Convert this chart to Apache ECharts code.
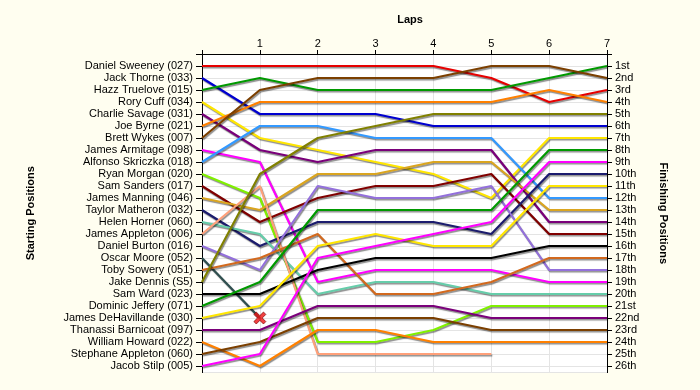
<!DOCTYPE html>
<html>
<head>
<meta charset="utf-8">
<script src="https://cdn.jsdelivr.net/npm/echarts@6/dist/echarts.min.js"></script>
<style>
html,body{margin:0;padding:0;background:#fffef0;}
#chart{width:700px;height:390px;}
</style>
</head>
<body>
<div id="chart"></div>
<script>
const laps = [0, 1, 2, 3, 4, 5, 6, 7];

const startingNames = [
  'Daniel Sweeney (027)', 'Jack Thorne (033)', 'Hazz Truelove (015)', 'Rory Cuff (034)',
  'Charlie Savage (031)', 'Joe Byrne (021)', 'Brett Wykes (007)', 'James Armitage (098)',
  'Alfonso Skriczka (018)', 'Ryan Morgan (020)', 'Sam Sanders (017)', 'James Manning (046)',
  'Taylor Matheron (032)', 'Helen Horner (060)', 'James Appleton (006)', 'Daniel Burton (016)',
  'Oscar Moore (052)', 'Toby Sowery (051)', 'Jake Dennis (S5)', 'Sam Ward (023)',
  'Dominic Jeffery (071)', 'James DeHavillande (030)', 'Thanassi Barnicoat (097)',
  'William Howard (022)', 'Stephane Appleton (060)', 'Jacob Stilp (005)'
];

const finishingLabels = [
  '1st', '2nd', '3rd', '4th', '5th', '6th', '7th', '8th', '9th', '10th', '11th', '12th', '13th',
  '14th', '15th', '16th', '17th', '18th', '19th', '20th', '21st', '22nd', '23rd', '24th', '25th', '26th'
];

// position of each driver (same order as startingNames) after lap 0..7; null = not running
const positionsByLap = [
  [1, 1, 1, 1, 1, 2, 4, 3],
  [2, 5, 5, 5, 6, 6, 6, 6],
  [3, 2, 3, 3, 3, 3, 2, 1],
  [4, 7, 8, 9, 10, 12, 7, 7],
  [5, 8, 9, 8, 8, 8, 14, 14],
  [6, 4, 4, 4, 4, 4, 3, 4],
  [7, 3, 2, 2, 2, 1, 1, 2],
  [8, 9, 19, 18, 18, 18, 19, 19],
  [9, 6, 6, 7, 7, 7, 12, 12],
  [10, 12, 24, 24, 23, 21, 21, 21],
  [11, 14, 12, 11, 11, 10, 15, 15],
  [12, 13, 10, 10, 9, 9, 13, 13],
  [13, 16, 14, 14, 14, 15, 10, 10],
  [14, 15, 20, 19, 19, 20, 20, 20],
  [15, 11, 25, 25, 25, 25, null, null],
  [16, 18, 11, 12, 12, 11, 18, 18],
  [17, 22, null, null, null, null, null, null],
  [18, 17, 15, 20, 20, 19, 17, 17],
  [19, 10, 7, 6, 5, 5, 5, 5],
  [20, 20, 18, 17, 17, 17, 16, 16],
  [21, 19, 13, 13, 13, 13, 8, 8],
  [22, 21, 16, 15, 16, 16, 11, 11],
  [23, 23, 21, 21, 21, 22, 22, 22],
  [24, 26, 23, 23, 24, 24, 24, 24],
  [25, 24, 22, 22, 22, 23, 23, 23],
  [26, 25, 17, 16, 15, 14, 9, 9]
];

// drivers shown with a crash marker at their last recorded lap
const crashedDrivers = ['Oscar Moore (052)'];

const lineColors = [
  '#e60000', '#0000d0', '#009900', '#ffe600', '#7a007a', '#ff8000', '#7b3f00', '#ff00ff',
  '#3399ff', '#80f000', '#800000', '#daa520', '#1c1c6e', '#66cdaa', '#ffa07a', '#9370db',
  '#2f4f4f', '#d2691e', '#808000', '#000000', '#009900', '#ffe600', '#7a007a', '#ff8000',
  '#7b3f00', '#ff00ff'
];

const FONT = '"Liberation Sans", Arial, sans-serif';

const series = positionsByLap.map((row, d) => ({
  type: 'line',
  name: startingNames[d],
  data: laps.map((lap, i) => [lap, row[i]]).filter(p => p[1] !== null),
  symbol: 'none',
  smooth: false,
  z: 3,
  lineStyle: {
    color: lineColors[d],
    width: 2.2,
    shadowColor: 'rgba(0,0,0,0.45)',
    shadowOffsetX: 1,
    shadowOffsetY: 1.5,
    shadowBlur: 1
  },
  emphasis: { disabled: true }
}));

const crashPoints = crashedDrivers.map(name => {
  const row = positionsByLap[startingNames.indexOf(name)];
  let last = 0;
  row.forEach((v, i) => { if (v !== null) last = i; });
  return [laps[last], row[last]];
});

series.push({
  type: 'scatter',
  data: crashPoints,
  symbol: 'path://M2,0 L5,3 L8,0 L10,2 L7,5 L10,8 L8,10 L5,7 L2,10 L0,8 L3,5 L0,2 Z',
  symbolSize: 12,
  z: 5,
  itemStyle: { color: '#ee1111', borderColor: '#700000', borderWidth: 0.8 },
  emphasis: { disabled: true }
});

const chart = echarts.init(document.getElementById('chart'), null, { renderer: 'canvas' });
chart.setOption({
  backgroundColor: '#fffef0',
  animation: false,
  textStyle: { fontFamily: FONT },
  title: {
    text: 'Laps',
    left: 405,
    top: 9,
    textAlign: 'center',
    textStyle: { fontSize: 11, fontWeight: 'bold', color: '#000', fontFamily: FONT }
  },
  grid: {
    left: 202,
    top: 54,
    width: 405,
    height: 318.6,
    show: true,
    backgroundColor: '#ffffff',
    borderWidth: 0,
    containLabel: false
  },
  xAxis: {
    type: 'value',
    position: 'top',
    min: 0,
    max: 7,
    interval: 1,
    axisLine: { show: true, lineStyle: { color: '#000', width: 1 } },
    axisTick: { show: true, length: 4, lineStyle: { color: '#000' } },
    axisLabel: {
      color: '#000', fontSize: 11, margin: 5, fontFamily: FONT,
      formatter: v => (v === 0 ? '' : String(v))
    },
    splitLine: { show: true, lineStyle: { color: '#e4e4e4', width: 1 } }
  },
  yAxis: [
    {
      type: 'value',
      inverse: true,
      min: 0,
      max: 26.55,
      interval: 1,
      position: 'left',
      offset: 2,
      name: 'Starting Positions',
      nameLocation: 'middle',
      nameRotate: 90,
      nameGap: 164,
      nameTextStyle: { fontSize: 11, fontWeight: 'bold', color: '#000', fontFamily: FONT },
      axisLine: { show: true, lineStyle: { color: '#000', width: 1 } },
      axisTick: { show: true, length: 6, lineStyle: { color: '#000' } },
      axisLabel: {
        color: '#000', fontSize: 11, margin: 7, fontFamily: FONT,
        showMaxLabel: false,
        formatter: v => (v >= 1 && v <= startingNames.length && Number.isInteger(v) ? startingNames[v - 1] : '')
      },
      splitLine: { show: true, lineStyle: { color: '#e4e4e4', width: 1 } }
    },
    {
      type: 'value',
      inverse: true,
      min: 0,
      max: 26.55,
      interval: 1,
      position: 'right',
      name: 'Finishing Positions',
      nameLocation: 'middle',
      nameRotate: -90,
      nameGap: 51,
      nameTextStyle: { fontSize: 11, fontWeight: 'bold', color: '#000', fontFamily: FONT },
      axisLine: { show: true, lineStyle: { color: '#000', width: 1 } },
      axisTick: { show: true, length: 5, lineStyle: { color: '#000' } },
      axisLabel: {
        color: '#000', fontSize: 11, margin: 8, fontFamily: FONT,
        showMaxLabel: false,
        formatter: v => (v >= 1 && v <= finishingLabels.length && Number.isInteger(v) ? finishingLabels[v - 1] : '')
      },
      splitLine: { show: false }
    }
  ],
  series: series
});
</script>
</body>
</html>
